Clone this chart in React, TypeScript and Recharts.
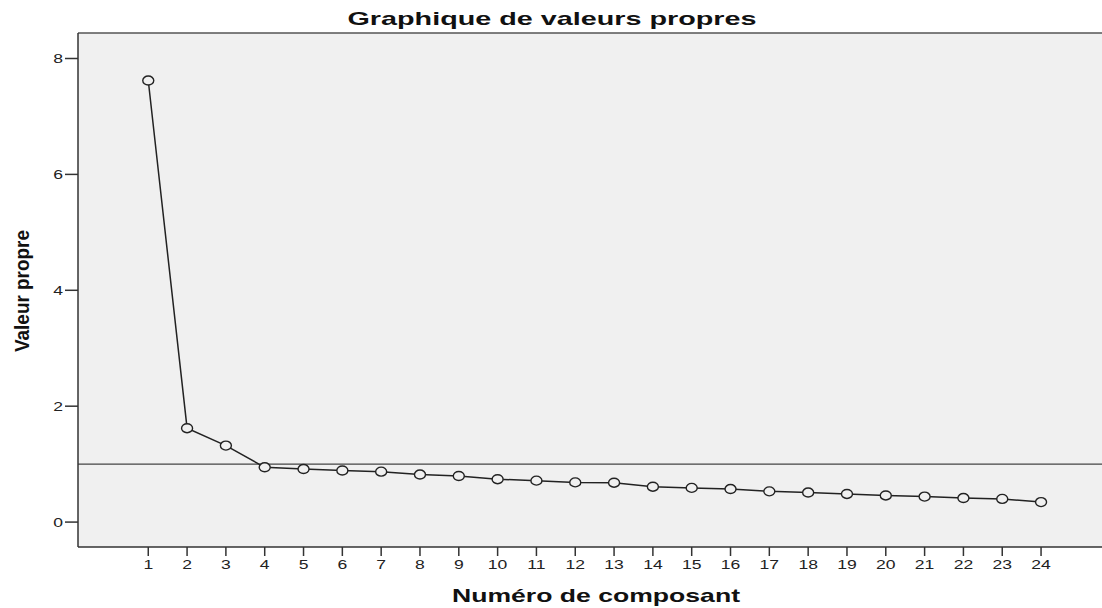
import React from 'react';
import {
  LineChart,
  Line,
  XAxis,
  YAxis,
  CartesianGrid,
  ReferenceLine,
} from 'recharts';

// Scree plot values
const components = [1, 2, 3, 4, 5, 6, 7, 8, 9, 10, 11, 12, 13, 14, 15, 16, 17, 18, 19, 20, 21, 22, 23, 24];
const eigenvalues = [
  7.62, 1.62, 1.32, 0.945, 0.915, 0.89, 0.87, 0.82, 0.795, 0.74, 0.715, 0.685,
  0.68, 0.61, 0.59, 0.57, 0.53, 0.51, 0.485, 0.46, 0.44, 0.415, 0.4, 0.345,
];
const yTicks = [0, 2, 4, 6, 8];
const cutoff = 1;

const data = components.map((c, i) => ({ comp: c, value: eigenvalues[i] }));

const FONT = '"Liberation Sans", Arial, sans-serif';

function OpenCircle(props: any) {
  const { cx, cy } = props;
  if (cx == null || cy == null) return null;
  return <ellipse cx={cx} cy={cy} rx={5.5} ry={4.5} fill="#f0f0f0" stroke="#222" strokeWidth={1.4} />;
}

// the reference is stretched horizontally, so the glyphs are too
function XTick(props: any) {
  const { x, y, payload } = props;
  return (
    <text
      transform={`translate(${x},${y}) scale(1.35,1)`}
      textAnchor="middle"
      dy="0.71em"
      fontSize={13}
      fontFamily={FONT}
      fill="#222"
    >
      {payload.value}
    </text>
  );
}

function YTick(props: any) {
  const { x, y, payload } = props;
  return (
    <text
      transform={`translate(${x},${y}) scale(1.35,1)`}
      textAnchor="end"
      dy="0.36em"
      fontSize={13}
      fontFamily={FONT}
      fill="#222"
    >
      {payload.value}
    </text>
  );
}

export default function App() {
  return (
    <div style={{ position: 'absolute', left: 0, top: 0, width: 1102, height: 608, background: '#fff' }}>
      <LineChart width={1102} height={608} data={data} margin={{ top: 33, right: 0, bottom: 11, left: 0 }}>
        <CartesianGrid fill="#f0f0f0" stroke="none" />
        <XAxis
          dataKey="comp"
          type="number"
          domain={[-0.81, 25.57]}
          ticks={components}
          allowDataOverflow
          interval={0}
          height={50}
          tickSize={9}
          tickMargin={4}
          stroke="#333"
          strokeWidth={1.5}
          tick={<XTick />}
        />
        <YAxis
          type="number"
          domain={[-0.43, 8.44]}
          ticks={yTicks}
          allowDataOverflow
          width={78}
          tickSize={13}
          tickMargin={2}
          stroke="#333"
          strokeWidth={1.5}
          tick={<YTick />}
        />
        <ReferenceLine y={8.44} stroke="#555" strokeWidth={1.5} />
        <ReferenceLine y={cutoff} stroke="#444" strokeWidth={1.2} />
        <Line
          dataKey="value"
          stroke="#222"
          strokeWidth={1.5}
          dot={<OpenCircle />}
          activeDot={false}
          isAnimationActive={false}
        />
      </LineChart>
      <svg
        width={1102}
        height={608}
        style={{ position: 'absolute', left: 0, top: 0, pointerEvents: 'none' }}
      >
        <text
          x={552}
          y={25}
          textAnchor="middle"
          fontSize={19}
          fontWeight="bold"
          fontFamily={FONT}
          fill="#111"
          textLength={409}
          lengthAdjust="spacingAndGlyphs"
        >
          Graphique de valeurs propres
        </text>
        <text
          x={596}
          y={602}
          textAnchor="middle"
          fontSize={18.5}
          fontWeight="bold"
          fontFamily={FONT}
          fill="#111"
          textLength={288}
          lengthAdjust="spacingAndGlyphs"
        >
          Numéro de composant
        </text>
        <text
          transform="translate(29,291) scale(1.2,1) rotate(-90)"
          textAnchor="middle"
          fontSize={17}
          fontWeight="bold"
          fontFamily={FONT}
          fill="#111"
          textLength={122}
          lengthAdjust="spacingAndGlyphs"
        >
          Valeur propre
        </text>
      </svg>
    </div>
  );
}
